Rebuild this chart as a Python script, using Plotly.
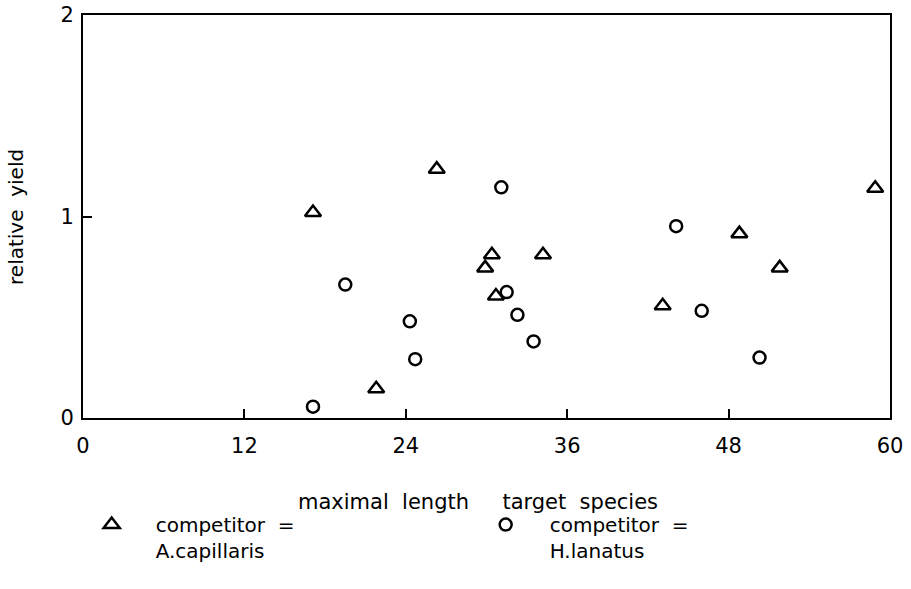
import plotly.graph_objects as go

# maximal length of the target species vs. its relative yield
capillaris_x = [17.1, 26.3, 30.4, 34.2, 29.9, 30.7, 21.8, 48.8, 51.8, 58.9, 43.1]
capillaris_y = [1.02, 1.235, 0.81, 0.81, 0.745, 0.605, 0.145, 0.915, 0.745, 1.14, 0.557]

lanatus_x = [31.1, 19.5, 31.5, 32.3, 24.3, 33.5, 24.7, 17.1, 44.1, 46.0, 50.3]
lanatus_y = [1.145, 0.662, 0.625, 0.512, 0.48, 0.38, 0.292, 0.056, 0.952, 0.532, 0.30]

x_ticks = [0, 12, 24, 36, 48, 60]
y_ticks = [0, 1, 2]

FONT = "DejaVu Sans"
NB = "\u00a0"

fig = go.Figure()
fig.add_trace(go.Scatter(
    x=capillaris_x, y=capillaris_y, mode="markers",
    name="competitor" + NB + NB + "=<br>A.capillaris",
    marker=dict(symbol="triangle-up-open", size=14, color="black",
                line=dict(color="black", width=2.5)),
))
fig.add_trace(go.Scatter(
    x=lanatus_x, y=lanatus_y, mode="markers",
    name="competitor" + NB + NB + "=<br>H.lanatus",
    marker=dict(symbol="circle-open", size=12, color="black",
                line=dict(color="black", width=2.5)),
))

axis_common = dict(
    showgrid=False, zeroline=False, showline=True, linecolor="black",
    linewidth=2, mirror=True, ticks="inside", tickcolor="black",
    tickwidth=2, ticklen=9, automargin=False,
    tickfont=dict(family=FONT, size=21, color="black"),
)

fig.update_xaxes(range=[0, 60], tickvals=x_ticks,
                 ticktext=[str(v) for v in x_ticks],
                 ticklabelstandoff=8, **axis_common)
fig.update_yaxes(range=[0, 2], tickvals=y_ticks,
                 ticktext=[str(v) for v in y_ticks],
                 ticklabelstandoff=3, **axis_common)

fig.add_annotation(
    text="maximal" + NB + NB + "length" + NB * 5 + "target" + NB + NB + "species",
    xref="paper", yref="paper", x=0.49, y=-0.21, yshift=-13, showarrow=False,
    font=dict(family=FONT, size=21, color="black"),
)
fig.add_annotation(
    text="relative" + NB + NB + "yield", textangle=-90,
    xref="paper", yref="paper", x=-0.08, xshift=-17, y=0.5, showarrow=False,
    font=dict(family=FONT, size=20, color="black"),
)

fig.update_layout(
    width=911, height=589,
    margin=dict(l=83, r=21, t=15, b=171),
    paper_bgcolor="white", plot_bgcolor="white",
    showlegend=True,
    legend=dict(
        orientation="h", x=-0.019, xanchor="left", y=-0.216, yanchor="top",
        itemwidth=78, entrywidth=301, valign="top",
        font=dict(family=FONT, size=20, color="black"),
        bgcolor="rgba(0,0,0,0)",
    ),
)

fig.write_html("out.html")
